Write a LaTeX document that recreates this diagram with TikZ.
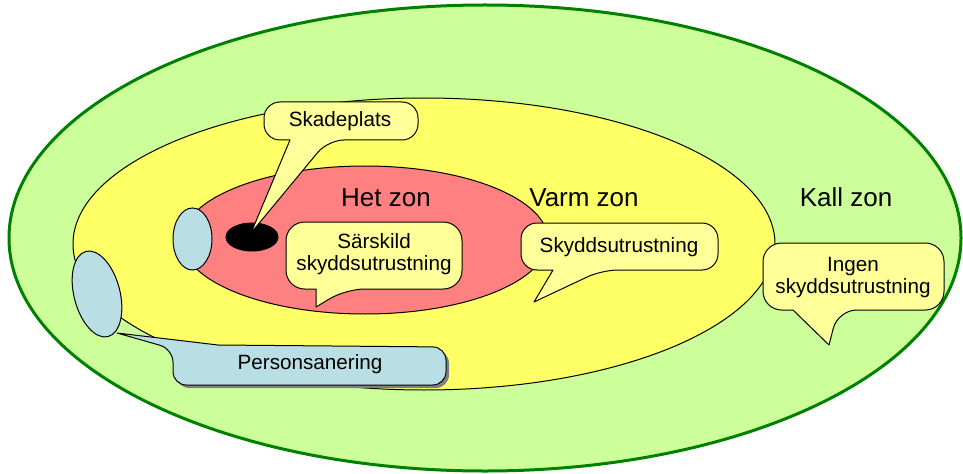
\documentclass[tikz,border=0pt]{standalone}
\usepackage{fontspec}
\setmainfont{Liberation Sans}
\definecolor{kall}{RGB}{204,255,153}
\definecolor{kallrand}{RGB}{0,128,0}
\definecolor{varm}{RGB}{255,255,102}
\definecolor{het}{RGB}{255,128,128}
\definecolor{sanering}{RGB}{185,222,228}
\definecolor{bubbla}{RGB}{255,255,153}
\begin{document}
\begin{tikzpicture}[x=0.75pt,y=-0.75pt,
  zone/.style={draw=black,line width=0.75pt},
  callout/.style={draw=black,line width=0.75pt,fill=bubbla,line join=round},
  zonetext/.style={font=\fontsize{19.5}{22}\selectfont,inner sep=0pt},
  calltext/.style={font=\fontsize{15.5}{16.5}\selectfont,inner sep=0pt,align=center}]
\useasboundingbox (0,0) rectangle (963,474);
% zones
\draw[draw=kallrand,line width=2.25pt,fill=kall] (485,238) ellipse [x radius=476, y radius=233];
\draw[zone,fill=varm] (424,244) ellipse [x radius=351, y radius=146];
\draw[zone,fill=het] (365,240) ellipse [x radius=183, y radius=74];
% persons / site
\draw[zone,fill=sanering] (192.5,239) ellipse [x radius=19.5, y radius=31];
\draw[zone,fill=sanering,rotate around={14.5:(97,294)}] (97,294) ellipse [x radius=23, y radius=44];
\draw[zone,fill=black] (252,237) ellipse [x radius=26, y radius=14];
% Skadeplats callout
\draw[callout] (290,140) [rounded corners=12] -- (264,140) -- (264,102) -- (418,102) -- (418,140) -- (328,140) [sharp corners] -- (251,233) -- cycle;
\node[calltext] (skadeplats) at (340,121) {Skadeplats};
% Het zon
\node[zonetext] (het) at (386,198) {Het zon};
% Särskild callout
\draw[callout] (316,289) [rounded corners=14] -- (286,289) -- (286,222) -- (462,222) -- (462,289) -- (346,289) [sharp corners] -- (316,307) -- cycle;
\node[calltext] (sarskild) at (374,254) {Särskild\\skyddsutrustning};
% Varm zon
\node[zonetext] (varm) at (584,198) {Varm zon};
\draw[callout] (553,270) [rounded corners=12] -- (521,270) -- (521,223) -- (718,223) -- (718,270) -- (602,270) [sharp corners] -- (534,302) -- cycle;
\node[calltext] (skydd) at (619,247) {Skyddsutrustning};
% Kall zon
\node[zonetext] (kall) at (846,197) {Kall zon};
\draw[callout] (793,310) [rounded corners=14] -- (763,310) -- (763,243) -- (944,243) -- (944,310) -- (838,310) [sharp corners] -- (829,345) -- cycle;
\node[calltext] (ingen) at (853,278) {Ingen\\skyddsutrustning};
% Personsanering callout
\fill[black!50] (176,350) [rounded corners=10] -- (176,388) -- (449,388) -- (449,350) -- cycle;
\draw[callout,fill=sanering] (218,345) [rounded corners=10] -- (446,347) -- (446,385) -- (173,385) -- (173,349) [sharp corners] -- (117,333) -- cycle;
\node[calltext] (person) at (310,364) {Personsanering};
\end{tikzpicture}
\end{document}
